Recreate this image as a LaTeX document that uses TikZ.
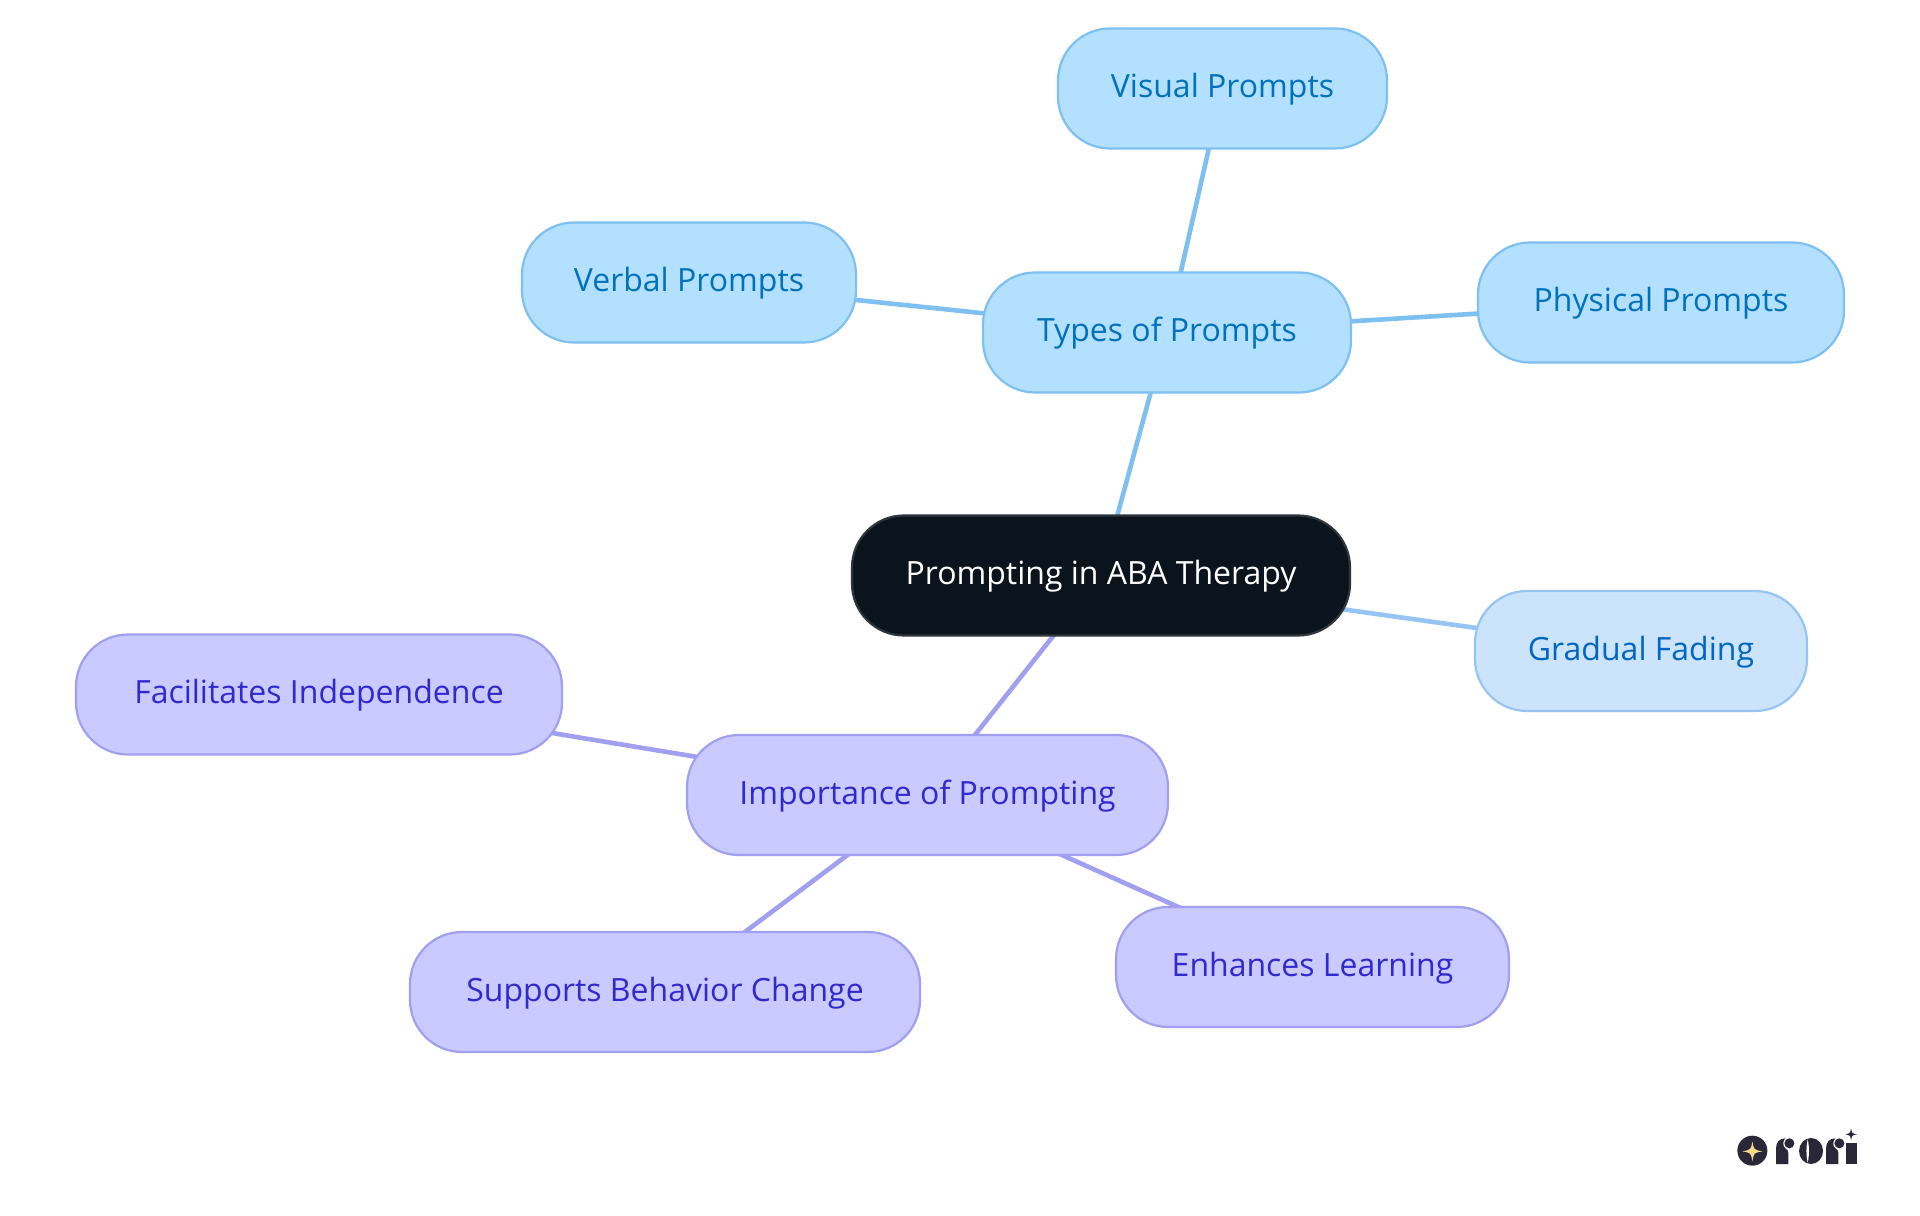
\documentclass[tikz,border=0pt]{standalone}
\usepackage{fontspec}
\setmainfont{Open Sans}
\usetikzlibrary{backgrounds, positioning}
\definecolor{rootfill}{HTML}{0B131C}
\definecolor{rootline}{HTML}{2F353C}
\definecolor{typesfill}{HTML}{B3E0FF}
\definecolor{typesline}{HTML}{7DC0F1}
\definecolor{typestext}{HTML}{0071BC}
\definecolor{fadefill}{HTML}{CCE3FC}
\definecolor{fadeline}{HTML}{96C5F3}
\definecolor{fadetext}{HTML}{0066C2}
\definecolor{whyfill}{HTML}{C9CAFF}
\definecolor{whyline}{HTML}{A09FF0}
\definecolor{whytext}{HTML}{3029CF}
\definecolor{logodark}{HTML}{2A2838}
\definecolor{logostar}{HTML}{FBD98A}
\newcommand{\sparkleat}[4]{\fill[#1, shift={(#2,#3)}, scale=#4] (-1,0) .. controls (-0.15,0.15) and (-0.15,0.15) .. (0,1) .. controls (0.15,0.15) and (0.15,0.15) .. (1,0) .. controls (0.15,-0.15) and (0.15,-0.15) .. (0,-1) .. controls (-0.15,-0.15) and (-0.15,-0.15) .. (-1,0) -- cycle;}

\begin{document}
\begin{tikzpicture}[
    box/.style={draw, line width=1.1pt, rounded corners=26pt, minimum height=60pt, inner sep=0pt, outer sep=0pt, text height=12.5pt, text depth=3pt, font=\fontsize{16}{19}\selectfont},
    rootbox/.style={box, fill=rootfill, draw=rootline, text=white},
    typesbox/.style={box, fill=typesfill, draw=typesline, text=typestext},
    fadebox/.style={box, fill=fadefill, draw=fadeline, text=fadetext},
    whybox/.style={box, fill=whyfill, draw=whyline, text=whytext},
    link/.style={line width=2.3pt}
]
\useasboundingbox (0,0) rectangle (960pt,607.5pt);
\node[rootbox, minimum width=249pt] (root) at (550.5pt,319.75pt) {Prompting in ABA Therapy};

\node[typesbox, minimum width=184pt, above=61.5pt of root, xshift=33pt] (types) {Types of Prompts};
\node[typesbox, minimum width=164.5pt, above=62pt of types, xshift=27.75pt] (visual) {Visual Prompts};
\node[typesbox, minimum width=167pt, left=63.5pt of types, yshift=25pt] (verbal) {Verbal Prompts};
\node[typesbox, minimum width=183pt, right=63.5pt of types, yshift=15pt] (physical) {Physical Prompts};
\node[fadebox, minimum width=166pt, right=62.5pt of root, yshift=-37.75pt] (fading) {Gradual Fading};

\node[whybox, minimum width=240.5pt, below=49.75pt of root, xshift=-86.75pt] (importance) {Importance of Prompting};
\node[whybox, minimum width=243pt, left=62.5pt of importance, yshift=50.25pt] (independence) {Facilitates Independence};
\node[whybox, minimum width=255pt, below=38.5pt of importance, xshift=-131.25pt] (behavior) {Supports Behavior Change};
\node[whybox, minimum width=196.5pt, below=26pt of importance, xshift=192.5pt] (learning) {Enhances Learning};

\begin{pgfonlayer}{background}
\fill[white] (0,0) rectangle (960pt,607.5pt);
\draw[link, typesline] (root.center) -- (types.center);
\draw[link, typesline] (types.center) -- (visual.center);
\draw[link, typesline] (types.center) -- (verbal.center);
\draw[link, typesline] (types.center) -- (physical.center);
\draw[link, fadeline] (root.center) -- (fading.center);
\draw[link, whyline] (root.center) -- (importance.center);
\draw[link, whyline] (importance.center) -- (independence.center);
\draw[link, whyline] (importance.center) -- (behavior.center);
\draw[link, whyline] (importance.center) -- (learning.center);
\end{pgfonlayer}

% logo
\begin{scope}[shift={(850pt,52.5pt)}, x=0.1667pt, y=-0.1667pt]
\fill[logodark] (157,122) circle (45 and 45);
\sparkleat{logostar}{157}{124}{30}
\foreach \dx in {0,150} {
    \fill[logodark, xshift=\dx*0.1667pt] (228,162) -- (228,115) .. controls (228,97) and (238,85) .. (256,85) .. controls (248,92) and (247,108) .. (256,115) .. controls (262,118) and (265,122) .. (265,130) -- (265,162) -- cycle;
    \fill[logodark, xshift=\dx*0.1667pt] (268,100) circle (15 and 15);
}
\fill[logodark] (333,123) ellipse (36 and 39);
\fill[white] (323,88) .. controls (318,110) and (318,136) .. (323,158) .. controls (328,136) and (328,110) .. (323,88) -- cycle;
\fill[logodark] (437,100) -- (470,100) -- (470,162) -- (437,162) -- cycle;
\sparkleat{logodark}{453}{73}{18}
\end{scope}
\end{tikzpicture}
\end{document}
